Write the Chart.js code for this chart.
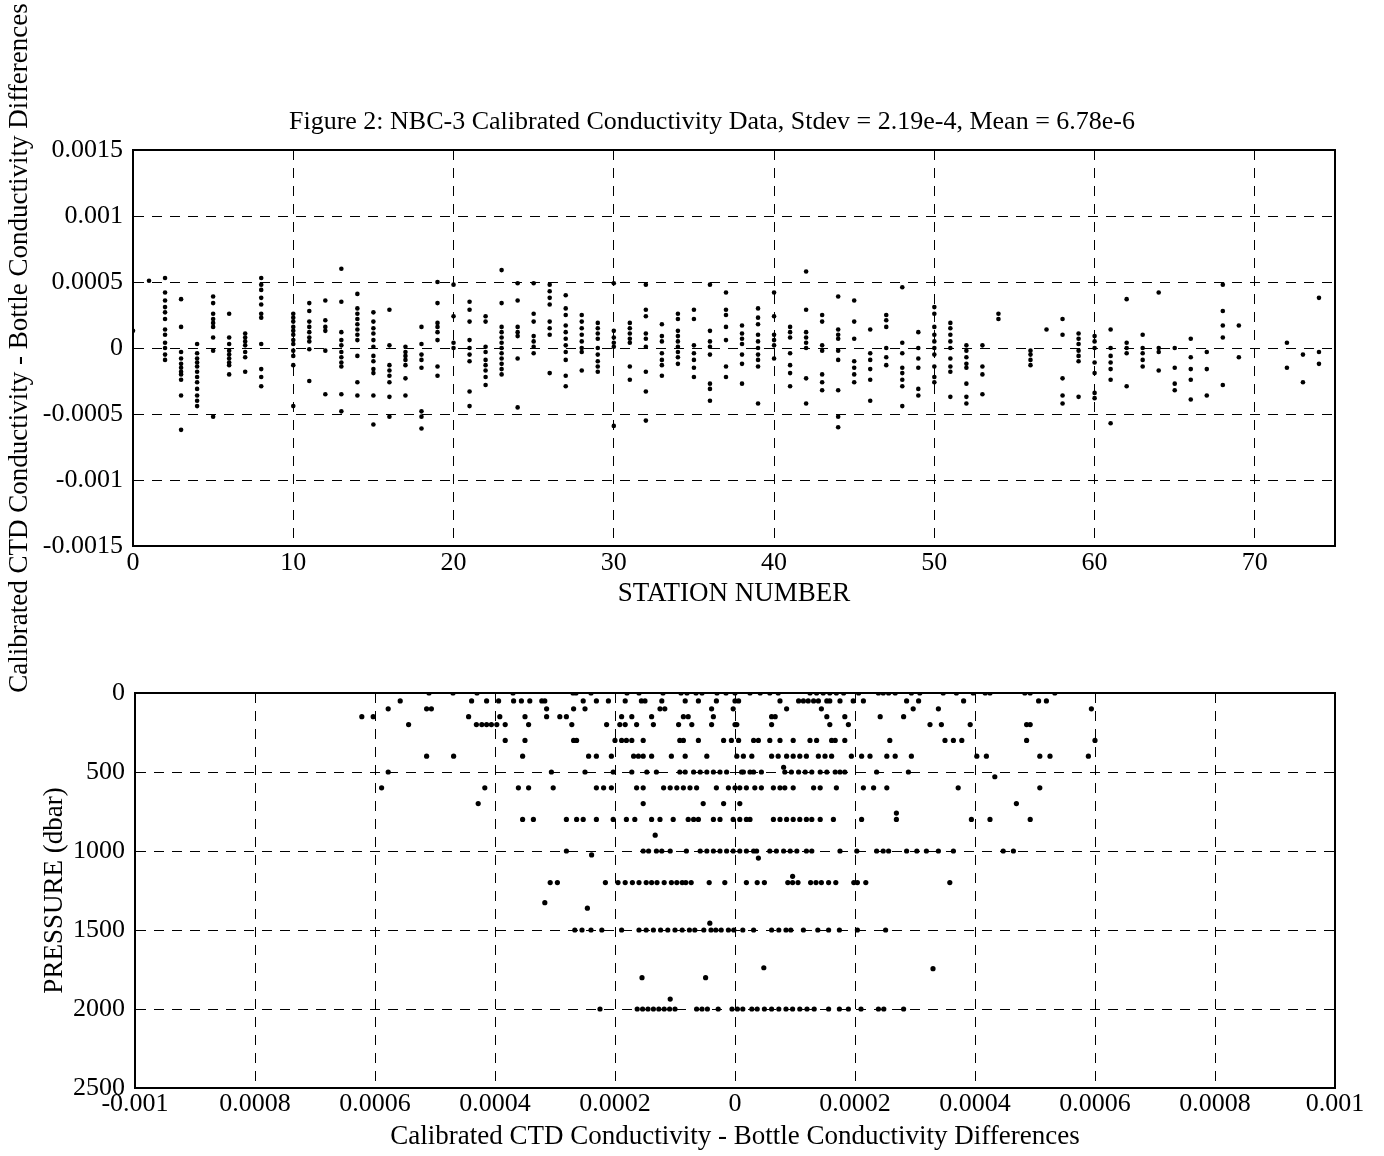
<!DOCTYPE html>
<html><head><meta charset="utf-8">
<script src="https://cdn.jsdelivr.net/npm/chart.js@4.4.0/dist/chart.umd.min.js"></script>
<style>
html,body{margin:0;padding:0;background:#fff;}
#wrap{position:relative;width:1384px;height:1156px;overflow:hidden;background:#fff;}
canvas{position:absolute;left:0;}
#c1{top:0;width:1384px;height:700px;}
#c2{top:620px;width:1384px;height:536px;}
</style></head>
<body><div id="wrap"><canvas id="c1" width="1384" height="700"></canvas><canvas id="c2" width="1384" height="536"></canvas></div>
<script>
// ---------- text ----------
const figureTitle = 'Figure 2: NBC-3 Calibrated Conductivity Data, Stdev = 2.19e-4, Mean = 6.78e-6';
const diffLabel = 'Calibrated CTD Conductivity - Bottle Conductivity Differences';
const topXTitle = 'STATION NUMBER';
const bottomYTitle = 'PRESSURE (dbar)';
const topYTicks = [-0.0015,-0.001,-0.0005,0,0.0005,0.001,0.0015];
const topYLabels = ['-0.0015','-0.001','-0.0005','0','0.0005','0.001','0.0015'];
const bottomXTicks = [-0.001,-0.0008,-0.0006,-0.0004,-0.0002,0,0.0002,0.0004,0.0006,0.0008,0.001];
const bottomXLabels = ['-0.001','0.0008','0.0006','0.0004','0.0002','0','0.0002','0.0004','0.0006','0.0008','0.001'];
const pressureTicks = [0,500,1000,1500,2000,2500];
const pressureLabels = ['0','500','1000','1500','2000','2500'];

// ---------- top panel: differences (units of 1e-4) per station ----------
const topStations = [0,1,2,3,4,5,6,7,8,10,11,12,13,14,15,16,17,18,19,20,21,22,23,24,25,26,27,28,29,30,31,32,33,34,35,36,37,38,39,40,41,42,43,44,45,46,47,48,49,50,51,52,53,54,56,57,58,59,60,61,62,63,64,65,66,67,68,69,72,73,74];
const topDiffs = [
 [1.3],
 [5.1],
 [5.3,4.2,3.6,3.1,2.7,2.2,1.4,1.0,0.4,0.0,-0.5,-0.9],
 [3.7,1.6,-0.3,-0.8,-1.2,-1.5,-1.8,-2.0,-2.4,-3.6,-6.2],
 [0.3,-0.4,-0.8,-1.1,-1.4,-1.8,-2.2,-2.6,-3.1,-3.6,-4.0,-4.4],
 [3.9,3.4,2.6,2.2,1.9,1.6,0.8,-0.2,-5.2],
 [2.6,0.8,0.3,-0.2,-0.5,-0.8,-1.1,-1.3,-2.0],
 [1.1,0.8,0.5,0.2,-0.3,-0.7,-1.8],
 [5.3,4.8,4.4,3.8,3.3,2.6,2.3,0.3,-1.6,-2.2,-2.9],
 [2.6,2.3,2.0,1.6,1.3,1.0,0.6,0.3,-0.2,-0.6,-1.3,-4.4],
 [3.4,2.8,2.0,1.6,1.2,0.8,0.5,-0.1,-2.5],
 [3.6,2.1,1.6,1.3,-0.2,-3.5],
 [6.0,3.5,1.2,0.6,0.2,-0.3,-0.7,-1.1,-1.4,-3.5,-4.8],
 [4.1,3.0,2.6,2.2,1.8,1.4,1.0,0.6,-0.6,-2.6,-3.6],
 [2.7,2.0,1.5,1.1,0.6,0.1,-0.6,-1.0,-1.6,-1.9,-3.6,-5.8],
 [2.9,0.2,-1.3,-1.7,-2.1,-2.6,-3.7,-5.2],
 [0.1,-0.3,-0.6,-0.9,-1.3,-2.3,-3.6],
 [1.6,0.3,-0.5,-0.9,-1.5,-4.8,-5.2,-6.1],
 [5.0,3.4,1.9,1.6,1.2,0.6,-1.4,-2.1],
 [4.8,2.4,0.4,0.0],
 [3.5,2.9,2.0,0.6,0.0,-0.5,-1.0,-3.3,-4.4],
 [2.4,2.0,0.1,-0.3,-0.9,-1.3,-1.7,-2.2,-2.8],
 [5.9,3.4,1.6,1.2,0.8,0.4,0.0,-0.4,-0.8,-1.2,-1.6,-2.0],
 [4.9,3.6,1.6,1.2,0.9,-0.8,-4.5],
 [4.9,2.6,2.0,0.9,0.5,0.1,-0.4],
 [4.8,4.3,3.8,3.3,2.0,1.5,1.0,-1.9],
 [4.0,3.0,2.5,1.7,1.2,0.7,0.2,-0.3,-0.9,-2.1,-2.9],
 [2.5,2.0,1.5,1.0,0.5,0.0,-0.3,-1.7],
 [1.9,1.5,1.1,0.7,0.0,-0.5,-1.0,-1.4,-1.8],
 [4.9,1.3,0.8,0.4,0.1,-5.9],
 [1.9,1.5,1.1,0.7,0.4,-1.4,-2.4],
 [4.8,2.9,2.4,1.1,0.7,0.1,-1.8,-3.3,-5.5],
 [1.8,0.9,0.5,-0.4,-0.9,-1.3,-2.1],
 [2.6,2.2,1.3,0.9,0.5,0.1,-0.3,-0.7,-1.2],
 [2.9,2.2,0.2,-0.4,-0.9,-1.5,-2.2],
 [4.8,1.3,0.5,0.1,-0.5,-2.7,-3.1,-4.0],
 [4.2,2.9,2.5,1.6,0.6,-1.4,-2.2],
 [1.7,1.1,0.7,0.3,-0.5,-1.2,-2.7],
 [3.0,2.3,1.8,1.0,0.5,0.0,-0.5,-0.9,-1.4,-4.2],
 [4.2,2.4,1.0,0.6,0.2,-0.8],
 [1.6,1.2,0.8,-0.4,-1.3,-1.9,-2.9],
 [5.8,2.9,1.2,0.8,0.4,0.0,-2.3,-4.2],
 [2.5,2.0,0.2,-0.2,-2.0,-2.6,-3.2],
 [3.9,1.4,1.0,0.7,-0.2,-0.9,-3.2,-5.2,-6.0],
 [3.6,2.0,0.7,-1.0,-1.5,-2.0,-2.6],
 [1.4,-0.4,-0.9,-1.6,-2.4,-4.0],
 [2.5,2.1,1.6,0.0,-0.7,-1.3],
 [4.6,0.4,-0.4,-1.5,-1.9,-2.4,-2.9,-4.4],
 [1.2,0.0,-0.8,-1.5,-3.1,-3.6],
 [3.1,2.6,1.6,1.0,0.5,0.0,-0.5,-1.4,-2.2,-2.6],
 [1.9,1.5,1.0,0.5,0.0,-0.8,-1.4,-1.8,-3.7],
 [0.2,-0.2,-0.7,-1.2,-1.5,-2.7,-3.7,-4.2],
 [0.2,-1.4,-2.0,-3.5],
 [2.6,2.2],
 [-0.2,-0.5,-0.9,-1.3],
 [1.4],
 [2.2,1.0,-2.3,-3.6,-4.2],
 [1.1,0.7,0.3,-0.2,-0.6,-1.0,-3.7],
 [0.9,0.5,0.0,-1.1,-1.9,-3.4,-3.8],
 [1.4,0.0,-0.6,-1.1,-1.6,-2.4,-5.7],
 [3.7,0.4,0.0,-0.4,-2.9],
 [1.0,0.0,-0.4,-0.9,-1.4],
 [4.2,0.0,-0.3,-1.7],
 [0.0,-1.5,-2.7,-3.2],
 [0.7,-0.7,-1.6,-2.4,-3.9],
 [-0.3,-1.6,-3.6],
 [4.8,2.8,1.7,0.8,-2.8],
 [1.7,-0.7],
 [0.4,-1.5],
 [-0.5,-2.6],
 [3.8,-0.3,-1.2]
];

// ---------- bottom panel: differences (units of 1e-4) at each pressure level ----------
const pressureLevels = [0,50,100,150,200,300,400,500,600,700,800,1000,1200,1500,2000];
const diffsAt0 = [-5.1,-4.7,-4.3,-3.7,-2.7,-2.65,-2.4,-1.8,-1.6,-1.2,-0.9,-0.8,-0.65,-0.55,-0.3,-0.15,0.0,0.25,0.42,0.58,0.72,1.25,1.36,1.47,1.58,1.69,1.81,2.06,2.39,2.47,2.56,2.67,2.94,3.08,3.47,3.69,3.97,4.17,4.25,4.83,4.92,5.33];
const diffsAt50 = [-5.58,-4.39,-4.14,-3.94,-3.69,-3.56,-3.42,-3.22,-3.17,-2.53,-2.31,-2.11,-1.83,-1.56,-1.5,-1.22,-0.83,-0.61,-0.31,0.0,0.06,0.75,1.06,1.14,1.22,1.31,1.39,1.53,1.58,1.75,1.97,2.14,2.86,3.06,3.81,5.06,5.19];
const diffsAt100 = [-5.78,-5.14,-5.06,-3.14,-2.69,-2.5,-1.25,-1.17,-0.39,-0.03,0.86,1.44,2.97,3.39,5.94];
const diffsAt150 = [-6.22,-6.03,-4.44,-3.92,-3.5,-3.14,-2.92,-2.81,-1.89,-1.72,-1.39,-0.86,-0.78,-0.36,0.61,0.67,1.53,1.83,2.42,2.81];
const diffsAt200 = [-5.44,-4.31,-4.22,-4.14,-4.06,-3.97,-3.83,-3.44,-2.72,-2.14,-1.92,-1.83,-1.64,-1.36,-0.94,-0.72,-0.39,0.0,0.03,0.61,1.58,1.89,3.25,3.44,3.92,4.86,4.92];
const diffsAt300 = [-3.83,-3.5,-2.69,-2.64,-2.0,-1.89,-1.81,-1.72,-1.53,-0.92,-0.86,-0.61,-0.19,-0.06,0.06,0.31,0.39,0.58,0.75,0.97,1.25,1.36,1.61,1.67,1.83,2.58,3.5,3.64,3.78,4.86,6.0];
const diffsAt400 = [-5.14,-4.69,-3.54,-2.44,-2.31,-2.06,-1.69,-1.61,-1.53,-1.39,-1.06,-0.83,-0.47,0.03,0.14,0.28,0.61,0.72,0.86,0.97,1.08,1.19,1.39,1.5,1.61,1.94,2.11,2.25,2.53,2.67,2.94,4.03,4.19,5.08,5.25,5.89];
const diffsAt500 = [-5.78,-3.06,-2.5,-2.03,-1.72,-1.47,-1.31,-0.92,-0.83,-0.69,-0.58,-0.47,-0.36,-0.25,-0.14,0.11,0.14,0.25,0.31,0.44,0.83,0.94,1.06,1.17,1.28,1.42,1.53,1.67,1.75,1.83,2.36,2.89];
const diffsAt600 = [-5.89,-4.17,-3.61,-3.44,-3.03,-2.31,-2.19,-2.06,-1.64,-1.53,-1.19,-1.08,-0.97,-0.86,-0.75,-0.64,-0.31,-0.11,0.0,0.08,0.19,0.33,0.44,0.64,0.75,0.83,0.97,1.31,1.42,1.69,2.14,2.31,2.53,3.72,5.08];
const diffsAt700 = [-4.28,-1.53,-0.53,-0.19,0.08,4.69];
const diffsAt800 = [-3.54,-3.36,-2.81,-2.64,-2.53,-2.31,-2.03,-1.81,-1.67,-1.39,-1.25,-1.03,-0.78,-0.69,-0.61,-0.36,-0.25,-0.03,0.08,0.19,0.25,0.64,0.75,0.86,0.97,1.08,1.19,1.28,1.42,1.64,2.11,2.69,3.94,4.25,4.92];
const diffsAt1000 = [-2.81,-1.53,-1.44,-1.31,-1.22,-1.08,-0.81,-0.58,-0.47,-0.36,-0.25,-0.14,-0.03,0.08,0.19,0.31,0.36,0.58,0.69,0.81,0.92,1.03,1.19,1.28,1.75,2.03,2.36,2.47,2.56,2.86,3.03,3.19,3.39,3.64,4.47,4.64];
const diffsAt1200 = [-3.08,-2.96,-2.16,-1.95,-1.83,-1.71,-1.6,-1.48,-1.39,-1.3,-1.18,-1.06,-0.97,-0.88,-0.82,-0.73,-0.43,-0.17,0.19,0.37,0.49,0.88,0.96,1.05,1.26,1.35,1.44,1.56,1.68,1.98,2.04,2.18,3.58];
const diffsAt1500 = [-2.67,-2.55,-2.4,-2.22,-1.89,-1.6,-1.48,-1.36,-1.24,-1.12,-1.0,-0.88,-0.76,-0.67,-0.52,-0.4,-0.32,-0.23,-0.11,-0.02,0.13,0.31,0.61,0.73,0.85,0.93,1.14,1.38,1.56,1.74,2.04,2.51];
const diffsAt2000 = [-2.25,-1.63,-1.54,-1.45,-1.36,-1.27,-1.18,-1.09,-1.0,-0.64,-0.55,-0.46,-0.28,-0.05,0.04,0.13,0.28,0.37,0.49,0.61,0.73,0.85,0.96,1.08,1.2,1.32,1.56,1.74,1.89,2.1,2.39,2.48,2.81];
const levelDiffs = [diffsAt0,diffsAt50,diffsAt100,diffsAt150,diffsAt200,diffsAt300,diffsAt400,diffsAt500,diffsAt600,diffsAt700,diffsAt800,diffsAt1000,diffsAt1200,diffsAt1500,diffsAt2000];
const otherPressures = [470,530,760,900,1025,1045,1160,1327,1362,1457,1739,1745,1802,1802,1937];
const otherDiffs = [0.81,4.33,2.69,-1.33,-2.39,0.39,0.96,-3.17,-2.46,-0.42,0.48,3.3,-1.55,-0.49,-1.08];

// ---------- build point lists ----------
const E4 = 1e-4;
const topPoints = [];
topStations.forEach((s, i) => topDiffs[i].forEach(v => topPoints.push({x: s, y: v * E4})));
const bottomPoints = [];
pressureLevels.forEach((p, i) => levelDiffs[i].forEach(v => bottomPoints.push({x: v * E4, y: p})));
otherPressures.forEach((p, i) => bottomPoints.push({x: otherDiffs[i] * E4, y: p}));

function labelFor(values, labels) {
  return v => {
    let best = 0;
    values.forEach((t, i) => { if (Math.abs(t - v) < Math.abs(values[best] - v)) best = i; });
    return labels[best];
  };
}

// ---------- styling ----------
const FONT = '"Liberation Serif","Times New Roman",Times,serif';
const tickFont = {family: FONT, size: 26};
const titleFont = {family: FONT, size: 27};
const DASH = [10, 8];

const framePlugin = {
  id: 'frame',
  afterDatasetsDraw(chart) {
    const {ctx, chartArea: a} = chart;
    ctx.save();
    ctx.strokeStyle = '#000';
    ctx.lineWidth = 2;
    ctx.setLineDash([]);
    ctx.strokeRect(a.left, a.top, a.right - a.left, a.bottom - a.top);
    ctx.restore();
  }
};
const figTitlePlugin = {
  id: 'figTitle',
  afterDraw(chart) {
    const ctx = chart.ctx;
    ctx.save();
    ctx.fillStyle = '#000';
    ctx.font = '26px ' + FONT;
    ctx.textAlign = 'center';
    ctx.textBaseline = 'middle';
    ctx.fillText(figureTitle, 712, 122);
    ctx.restore();
  }
};

function axisCommon() {
  return {
    grid: {color: '#000', lineWidth: 1, drawTicks: false},
    border: {display: true, color: '#000', width: 2, dash: DASH}
  };
}

new Chart(document.getElementById('c1'), {
  type: 'scatter',
  data: {datasets: [{data: topPoints, pointRadius: 2.3, pointHoverRadius: 2.3, pointBackgroundColor: '#000', pointBorderWidth: 0}]},
  plugins: [framePlugin, figTitlePlugin],
  options: {
    responsive: false, animation: false, devicePixelRatio: 1,
    layout: {padding: {left: 0, right: 49, top: 150, bottom: 0}},
    plugins: {legend: {display: false}, tooltip: {enabled: false}},
    scales: {
      x: Object.assign(axisCommon(), {
        type: 'linear', min: 0, max: 75,
        afterFit(s) { s.height = 154; },
        ticks: {stepSize: 10, includeBounds: false, color: '#000', font: tickFont, padding: 2, maxRotation: 0},
        title: {display: true, text: topXTitle, color: '#000', font: titleFont, padding: {top: 0, bottom: 90}}
      }),
      y: Object.assign(axisCommon(), {
        type: 'linear', min: -0.0015, max: 0.0015,
        afterFit(s) { s.width = 133; },
        ticks: {stepSize: 0.0005, color: '#000', font: tickFont, padding: 10, callback: labelFor(topYTicks, topYLabels)},
        title: {display: true, text: diffLabel, color: '#000', font: titleFont, padding: {top: 4, bottom: 0}}
      })
    }
  }
});

new Chart(document.getElementById('c2'), {
  type: 'scatter',
  data: {datasets: [{data: bottomPoints, pointRadius: 2.6, pointHoverRadius: 2.6, pointBackgroundColor: '#000', pointBorderWidth: 0}]},
  plugins: [framePlugin],
  options: {
    responsive: false, animation: false, devicePixelRatio: 1,
    layout: {padding: {left: 0, right: 49, top: 73, bottom: 0}},
    plugins: {legend: {display: false}, tooltip: {enabled: false}},
    scales: {
      x: Object.assign(axisCommon(), {
        type: 'linear', min: -0.001, max: 0.001,
        afterFit(s) { s.height = 68; },
        ticks: {stepSize: 0.0002, color: '#000', font: tickFont, padding: 1, maxRotation: 0, autoSkip: false, callback: labelFor(bottomXTicks, bottomXLabels)},
        title: {display: true, text: diffLabel, color: '#000', font: titleFont, padding: {top: 0, bottom: 3}}
      }),
      y: Object.assign(axisCommon(), {
        type: 'linear', min: 0, max: 2500, reverse: true,
        afterFit(s) { s.width = 135; },
        ticks: {stepSize: 500, color: '#000', font: tickFont, padding: 10, callback: labelFor(pressureTicks, pressureLabels)},
        title: {display: true, text: bottomYTitle, color: '#000', font: titleFont, padding: {top: 39, bottom: 0}}
      })
    }
  }
});
</script>
</body></html>
